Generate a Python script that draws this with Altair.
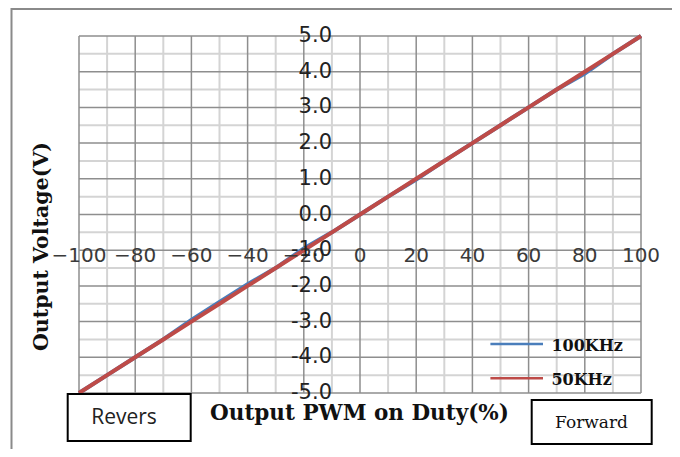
import altair as alt
import pandas as pd

# ---- data ----
duty = [-100, -90, -80, -70, -60, -50, -40, -30, -20, -10, 0,
        10, 20, 30, 40, 50, 60, 70, 80, 90, 100]
v_100k = [-5.0, -4.5, -4.0, -3.5, -2.95, -2.45, -1.95, -1.5, -0.95, -0.5, 0.0,
          0.5, 0.98, 1.5, 2.0, 2.5, 3.0, 3.5, 3.95, 4.5, 5.0]
v_50k = [-5.0, -4.5, -4.0, -3.5, -3.0, -2.5, -2.0, -1.5, -1.0, -0.5, 0.0,
         0.5, 1.0, 1.5, 2.0, 2.5, 3.0, 3.5, 4.0, 4.5, 5.0]

x_ticks = [-100, -80, -60, -40, -20, 0, 20, 40, 60, 80, 100]
x_tick_labels = ["\u2212100", "\u221280", "\u221260", "\u221240", "\u221220", "0",
                 "20", "40", "60", "80", "100"]
x_minor = [-90, -70, -50, -30, -10, 10, 30, 50, 70, 90]
y_ticks = [-5, -4, -3, -2, -1, 0, 1, 2, 3, 4, 5]
y_tick_labels = ["-5.0", "-4.0", "-3.0", "-2.0", "-1.0", "0.0",
                 "1.0", "2.0", "3.0", "4.0", "5.0"]
y_minor = [-4.5, -3.5, -2.5, -1.5, -0.5, 0.5, 1.5, 2.5, 3.5, 4.5]

series_names = ["100KHz", "50KHz"]
series_colors = ["#4A7EBB", "#BE4B48"]

x_title = "Output PWM on Duty(%)"
y_title = "Output Voltage(V)"
box_left_text = "Revers"
box_right_text = "Forward"

# ---- layout ----
W, H = 562, 357
xs = alt.Scale(domain=[-100, 100], nice=False, zero=False)
ys = alt.Scale(domain=[-5, 5], nice=False, zero=False)
one = pd.DataFrame({"a": [0]})

LIGHT = "#d4d4d4"
DARK = "#8e8e8e"

grid_x_minor = alt.Chart(pd.DataFrame({"x": x_minor})).mark_rule(
    color=LIGHT, strokeWidth=2).encode(x=alt.X("x:Q", scale=xs, axis=None))
grid_y_minor = alt.Chart(pd.DataFrame({"y": y_minor})).mark_rule(
    color=LIGHT, strokeWidth=2).encode(y=alt.Y("y:Q", scale=ys, axis=None))
grid_x_major = alt.Chart(pd.DataFrame({"x": x_ticks})).mark_rule(
    color=DARK, strokeWidth=1.5).encode(x=alt.X("x:Q", scale=xs, axis=None))
grid_y_major = alt.Chart(pd.DataFrame({"y": y_ticks})).mark_rule(
    color=DARK, strokeWidth=1.5).encode(y=alt.Y("y:Q", scale=ys, axis=None))

line_blue = alt.Chart(pd.DataFrame({"d": duty, "v": v_100k})).mark_line(
    color=series_colors[0], strokeWidth=4).encode(
    x=alt.X("d:Q", scale=xs, axis=None), y=alt.Y("v:Q", scale=ys, axis=None))
line_red = alt.Chart(pd.DataFrame({"d": duty, "v": v_50k})).mark_line(
    color=series_colors[1], strokeWidth=4).encode(
    x=alt.X("d:Q", scale=xs, axis=None), y=alt.Y("v:Q", scale=ys, axis=None))

x_labels = alt.Chart(pd.DataFrame({"x": x_ticks, "t": x_tick_labels})).mark_text(
    font="DejaVu Sans", fontSize=20, color="#3a3a3a", align="center",
    baseline="middle").encode(
    x=alt.X("x:Q", scale=xs, axis=None), y=alt.value(219.5), text="t:N")
y_labels = alt.Chart(pd.DataFrame({"y": y_ticks, "t": y_tick_labels})).mark_text(
    font="DejaVu Sans", fontSize=21, color="#222222", align="right",
    baseline="middle").encode(
    y=alt.Y("y:Q", scale=ys, axis=None), x=alt.value(253), text="t:N")

# frame (top and left gray lines)
frame_top = alt.Chart(one).mark_rule(color="#8a8a8a", strokeWidth=2).encode(
    x=alt.value(-68), x2=alt.value(W + 40), y=alt.value(-27))
frame_left = alt.Chart(one).mark_rule(color="#8a8a8a", strokeWidth=2).encode(
    x=alt.value(-67.5), y=alt.value(-28), y2=alt.value(H + 60))

# axis titles
xt = alt.Chart(one).mark_text(
    text=x_title, font="DejaVu Serif", fontWeight="bold", fontSize=21.5,
    color="#111111", align="center", baseline="middle").encode(
    x=alt.value(280.5), y=alt.value(378))
yt = alt.Chart(one).mark_text(
    text=y_title, font="DejaVu Serif", fontWeight="bold", fontSize=20.5,
    color="#111111", align="center", baseline="middle", angle=270).encode(
    x=alt.value(-37.5), y=alt.value(210.5))

# boxes
box_l = alt.Chart(one).mark_rect(fill="white", stroke="black", strokeWidth=2).encode(
    x=alt.value(-11.3), x2=alt.value(111.7), y=alt.value(358), y2=alt.value(405))
box_r = alt.Chart(one).mark_rect(fill="white", stroke="black", strokeWidth=2).encode(
    x=alt.value(452.7), x2=alt.value(572.7), y=alt.value(364), y2=alt.value(408))
box_l_t = alt.Chart(one).mark_text(
    text=box_left_text, font="Open Sans", fontSize=21, color="#222222",
    align="center", baseline="middle").encode(x=alt.value(45), y=alt.value(382))
box_r_t = alt.Chart(one).mark_text(
    text=box_right_text, font="DejaVu Serif", fontSize=17, color="#111111",
    align="center", baseline="middle").encode(x=alt.value(512.5), y=alt.value(387))

# legend
leg = []
for name, col, yy in zip(series_names, series_colors, [308, 342.3]):
    leg.append(alt.Chart(one).mark_rule(color=col, strokeWidth=2.5).encode(
        x=alt.value(411.4), x2=alt.value(464), y=alt.value(yy)))
    leg.append(alt.Chart(one).mark_text(
        text=name, font="DejaVu Serif", fontWeight="bold", fontSize=16,
        color="#111111", align="left", baseline="middle").encode(
        x=alt.value(472.4), y=alt.value(yy + 1.5)))

chart = alt.layer(
    frame_top, frame_left,
    grid_x_minor, grid_y_minor, grid_x_major, grid_y_major,
    line_blue, line_red,
    x_labels, y_labels,
    xt, yt,
    box_l, box_r, box_l_t, box_r_t,
    *leg,
).properties(
    width=W, height=H,
    autosize=alt.AutoSizeParams(type="none"),
    padding={"left": 71, "top": 28, "right": 31, "bottom": 56},
).configure_view(stroke=None)

chart.save("out.html", embed_options={"renderer": "svg", "actions": False})
